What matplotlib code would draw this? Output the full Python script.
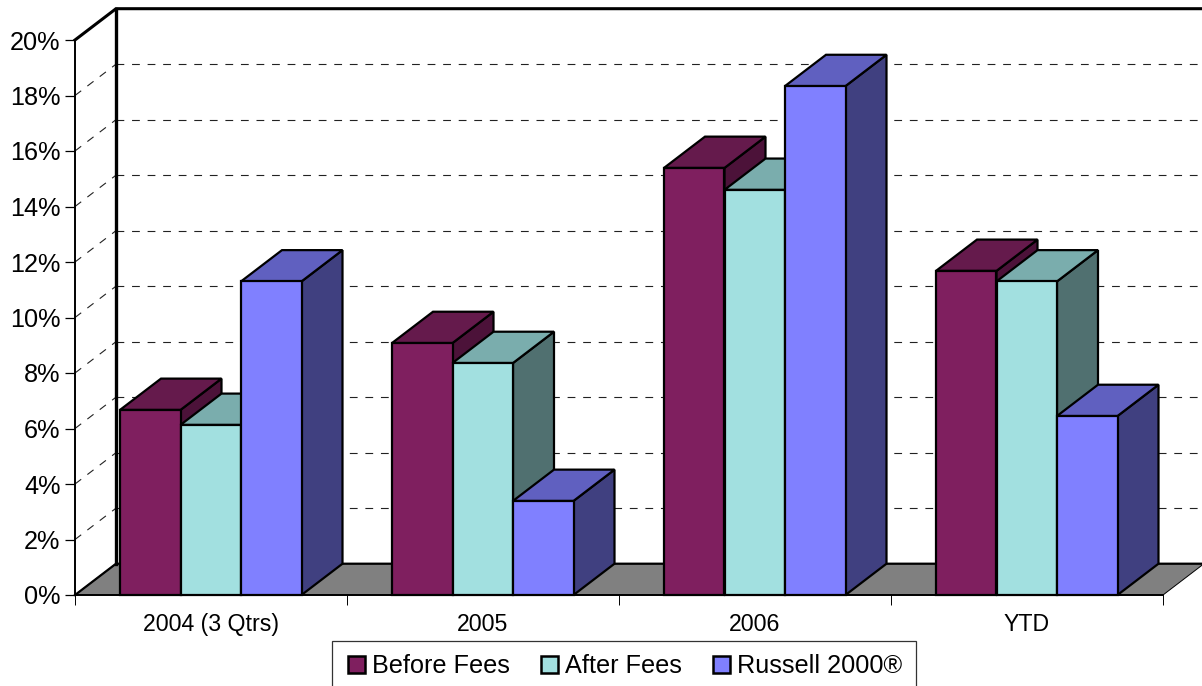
import numpy as np
import matplotlib
matplotlib.use("Agg")
import matplotlib.pyplot as plt
from matplotlib.patches import Patch, Polygon, Rectangle

plt.rcParams['font.family'] = ['Liberation Sans', 'DejaVu Sans']

categories = ["2004 (3 Qtrs)", "2005", "2006", "YTD"]
before_fees = [6.67, 9.08, 15.39, 11.68]
after_fees = [6.13, 8.36, 14.6, 11.3]
russell = [11.3, 3.39, 18.34, 6.45]
y_ticks = [0, 2, 4, 6, 8, 10, 12, 14, 16, 18, 20]

W, H = 1202, 686
X0, Y0 = 75, 595          # pixel position of the axes origin
CAT_PX, PCT_PX = 272.0, 27.75

# depth of the fake 3d box, in data units
dx = 41 / CAT_PX
dy = 31.3 / PCT_PX
bar_w = 60.5 / CAT_PX
bar_start = 45 / CAT_PX

fig = plt.figure(figsize=(W / 100, H / 100), dpi=100)
ax = fig.add_axes([0, 0, 1, 1])
ax.set_xlim(-X0 / CAT_PX, (W - X0) / CAT_PX)
ax.set_ylim((Y0 - H) / PCT_PX, Y0 / PCT_PX)
ax.patch.set_visible(False)

for s in ['top', 'right']:
    ax.spines[s].set_visible(False)
ax.spines['left'].set_position(('data', 0))
ax.spines['left'].set_bounds(0, 20)
ax.spines['bottom'].set_position(('data', 0))
ax.spines['bottom'].set_bounds(0, 4)
ax.spines['left'].set_linewidth(1.4)
ax.spines['bottom'].set_linewidth(1.4)
ax.spines['left'].set_zorder(1)
ax.spines['bottom'].set_zorder(20)

ax.set_yticks(y_ticks)
ax.set_yticklabels([str(v) + "%" for v in y_ticks], fontsize=18.2)
ax.tick_params(axis='y', length=7, width=0.9, pad=3.5)

ax.set_xticks(np.arange(len(categories) + 1))
ax.set_xticklabels([])
ax.tick_params(axis='x', which='major', length=7, width=0.7)
ax.set_xticks(np.arange(len(categories)) + 0.5, minor=True)
ax.set_xticklabels(categories, minor=True, fontsize=16.7)
ax.tick_params(axis='x', which='minor', length=0, pad=13)

# floor
xr = 4 + dx
ax.add_patch(Polygon([(0, 0), (dx, dy), (xr, dy), (4, 0)], closed=True,
                     facecolor='#808080', edgecolor='black', lw=0.7, zorder=1))

# back wall gridlines and their dashed continuation on the side wall
for v in y_ticks[1:-1]:
    ax.plot([dx, xr], [v + dy, v + dy], color='#222222', lw=0.8, dashes=(7, 7), zorder=0.5)
    ax.plot([0, dx], [v, v + dy], color='#222222', lw=0.8, dashes=(7, 7), zorder=0.5)

# wall outline
ax.plot([0, dx, xr], [20, 20 + dy, 20 + dy], color='black', lw=2.2, zorder=2,
        solid_joinstyle='miter')
ax.plot([dx, dx], [dy, 20 + dy], color='black', lw=2.4, zorder=2)
ax.plot([0, dx, xr], [0, dy, dy], color='black', lw=1.6, zorder=2)

series = [
    (before_fees, '#7F1F5F', '#651A4C', '#4C1239', "Before Fees"),
    (after_fees, '#A2E0E0', '#7AADAD', '#507070', "After Fees"),
    (russell, '#8080FF', '#6060C0', '#404080', "Russell 2000®"),
]

z = 3
for c in range(len(categories)):
    for i, (vals, front, top, side, label) in enumerate(series):
        x = c + bar_start + i * bar_w
        v = vals[c]
        ax.add_patch(Polygon([(x + bar_w, 0), (x + bar_w + dx, dy), (x + bar_w + dx, v + dy), (x + bar_w, v)],
                             closed=True, facecolor=side, edgecolor='black', lw=1.6, zorder=z))
        ax.add_patch(Polygon([(x, v), (x + dx, v + dy), (x + bar_w + dx, v + dy), (x + bar_w, v)],
                             closed=True, facecolor=top, edgecolor='black', lw=1.6, zorder=z))
        ax.bar(x, v, bar_w, align='edge', color=front, edgecolor='black', lw=1.6, zorder=z + 0.5)
        z += 1

# legend box runs off the bottom of the image
fig.add_artist(Rectangle((332 / W, -0.02), (916 - 332) / W, 1 - 641 / H + 0.02,
                         transform=fig.transFigure, facecolor='white',
                         edgecolor='#333333', lw=0.9))

handles = [Patch(facecolor=s[1], edgecolor='black', lw=1.8) for s in series]
leg = fig.legend(handles, [s[4] for s in series], ncol=3, fontsize=18.2,
                 loc='upper left', bbox_to_anchor=(348 / W, 1 - 654 / H),
                 frameon=False, borderaxespad=0, borderpad=0,
                 handlelength=0.66, handleheight=0.66, handletextpad=0.3,
                 columnspacing=1.22)
leg.set_zorder(50)

fig.savefig("out.png", dpi=100)
